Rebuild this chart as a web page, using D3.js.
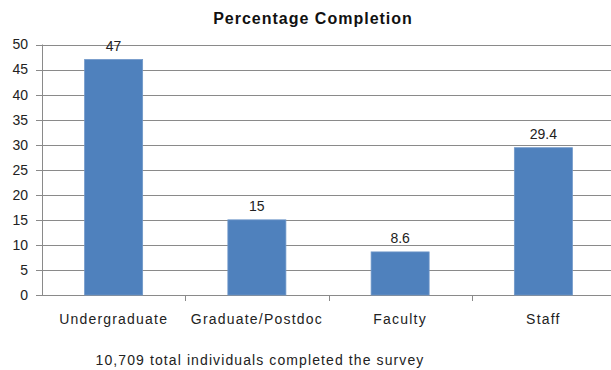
<!DOCTYPE html>
<html><head><meta charset="utf-8">
<script src="https://cdn.jsdelivr.net/npm/d3@7"></script>
<style>body{margin:0;background:#fff}svg{display:block;font-family:"Liberation Sans",Arial,sans-serif}</style>
</head><body><svg id="c" width="611" height="370"></svg>
<script>
const categories = ["Undergraduate","Graduate/Postdoc","Faculty","Staff"];
const values = [47, 15, 8.6, 29.4];
const valueLabels = ["47","15","8.6","29.4"];
const yTicks = [0,5,10,15,20,25,30,35,40,45,50];
const title = "Percentage Completion";
const note = "10,709 total individuals completed the survey";

(function(){
const svg = d3.select("#c");
const mLeft = 42, mRight = 615, mTop = 44.5, mBottom = 295;
const x = d3.scaleBand().domain(categories).range([mLeft, mRight]);
const y = d3.scaleLinear().domain([0,50]).range([mBottom, mTop]);
const grid = "#8a8a8a";

svg.append("g").selectAll("line").data(yTicks).join("line")
  .attr("x1", mLeft-6).attr("x2", 611)
  .attr("y1", d=>Math.round(y(d))+0.5).attr("y2", d=>Math.round(y(d))+0.5)
  .attr("stroke", grid).attr("stroke-width",1);
svg.append("line").attr("x1",mLeft+0.5).attr("x2",mLeft+0.5).attr("y1",mTop).attr("y2",mBottom+0.5)
  .attr("stroke",grid);
svg.append("g").selectAll("text").data(yTicks).join("text")
  .attr("x", 28).attr("y", d=>y(d)).attr("dy","0.35em").attr("text-anchor","end")
  .attr("font-size",14).attr("fill","#222").text(d=>d);
const bounds = categories.map(c=>x(c)).concat([mRight]);
svg.append("g").selectAll("line").data(bounds.slice(1,4)).join("line")
  .attr("x1",d=>Math.round(d)+0.5).attr("x2",d=>Math.round(d)+0.5)
  .attr("y1",mBottom).attr("y2",mBottom+6).attr("stroke",grid);
const bw = x.bandwidth()*0.405;
svg.append("g").selectAll("rect").data(values).join("rect")
  .attr("x",(d,i)=>x(categories[i])+x.bandwidth()/2-bw/2)
  .attr("width",bw)
  .attr("y",d=>y(d)).attr("height",d=>mBottom-y(d))
  .attr("fill","#4f81bd").attr("stroke","#6f97c9").attr("stroke-width",0.8);
svg.append("g").selectAll("text").data(values).join("text")
  .attr("x",(d,i)=>x(categories[i])+x.bandwidth()/2)
  .attr("y",d=>y(d)-9).attr("text-anchor","middle")
  .attr("font-size",14).attr("fill","#222").text((d,i)=>valueLabels[i]);
svg.append("g").selectAll("text").data(categories).join("text")
  .attr("x",d=>x(d)+x.bandwidth()/2).attr("y",324).attr("text-anchor","middle")
  .attr("font-size",14).attr("letter-spacing","1.2px").attr("fill","#222").text(d=>d);
svg.append("text").attr("x",313).attr("y",24).attr("text-anchor","middle")
  .attr("font-size",16).attr("letter-spacing","1px").attr("font-weight","bold").attr("fill","#111").text(title);
svg.append("text").attr("x",260).attr("y",365).attr("text-anchor","middle")
  .attr("font-size",14).attr("letter-spacing","1.1px").attr("fill","#222").text(note);
})();
</script></body></html>
